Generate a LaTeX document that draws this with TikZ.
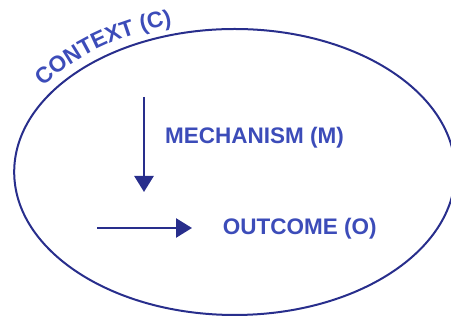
\documentclass[tikz,border=0pt]{standalone}
\usepackage{fontspec}
\setmainfont{Liberation Sans}
\usepackage{tikz}
\usetikzlibrary{arrows.meta,decorations.text,shapes.geometric,positioning}
\definecolor{cmoline}{RGB}{40,46,140}
\definecolor{cmotext}{RGB}{60,76,185}
\tikzset{
  cmo ring/.style={
    ellipse,
    draw=cmoline,
    line width=2pt,
    inner sep=0pt,
    minimum width=441pt,
    minimum height=286pt,
  },
  cmo label/.style={
    text=cmotext,
    font=\fontsize{22.5}{27}\selectfont\bfseries,
    inner sep=0pt,
    anchor=base west,
  },
  cmo arrow/.style={-{Triangle[width=19pt,length=16pt]}, draw=cmoline, line width=2.6pt},
}

\begin{document}
\begin{tikzpicture}[x=1pt,y=1pt]
  \useasboundingbox (0,0) rectangle (451,320);
  \node[cmo ring] (ctx) at (234.7,148) {};
  \path[decorate,decoration={text along path,text color=cmotext,
      text={|\fontsize{22.5}{27}\selectfont\bfseries|CONTEXT (C)}}]
    ([shift={(146:231 and 153)}]ctx.center)
    arc[start angle=146,end angle=90,x radius=231,y radius=153];

  \coordinate (mtop) at (144,223);
  \coordinate[below=95pt of mtop] (mbot);
  \coordinate (ostart) at (97,92);
  \coordinate[right=95pt of ostart] (oend);
  \node[cmo label] (mech) at (165,176.5) {MECHANISM (M)};
  \node[cmo label] (outc) at (222.7,85.5) {OUTCOME (O)};

  \draw[cmo arrow] (mtop) -- (mbot);
  \draw[cmo arrow] (ostart) -- (oend);
\end{tikzpicture}
\end{document}
